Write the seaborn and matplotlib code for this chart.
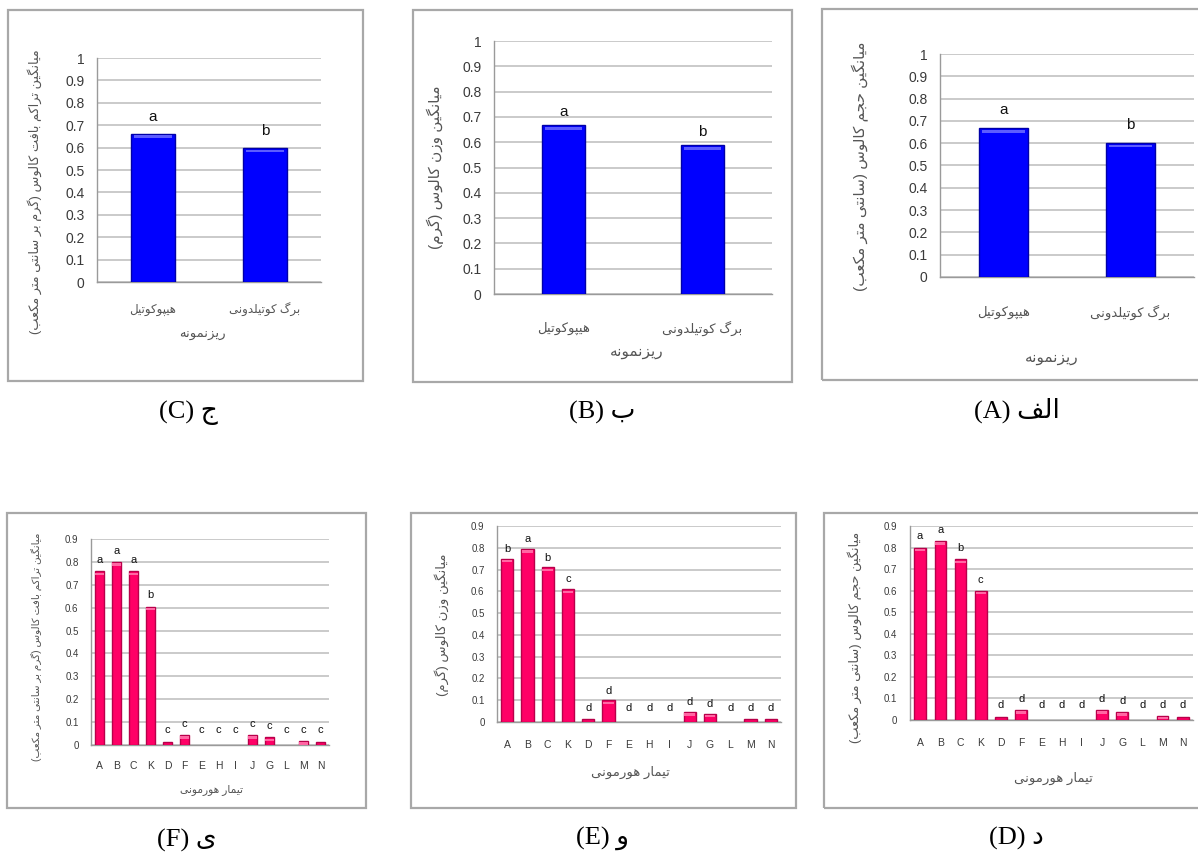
import numpy as np
import pandas as pd
import matplotlib
matplotlib.use("Agg")
import matplotlib.pyplot as plt
from matplotlib.patches import Rectangle
from matplotlib.ticker import MultipleLocator, FixedLocator
import seaborn as sns

# ---------------- data ----------------
explants = ["هیپوکوتیل", "برگ کوتیلدونی"]
explant_volume = [0.667, 0.600]
explant_volume_groups = ["a", "b"]
explant_weight = [0.668, 0.589]
explant_weight_groups = ["a", "b"]
explant_density = [0.662, 0.598]
explant_density_groups = ["a", "b"]

treatments = ["A", "B", "C", "K", "D", "F", "E", "H", "I", "J", "G", "L", "M", "N"]
hormone_volume = [0.80, 0.83, 0.745, 0.60, 0.012, 0.046, 0, 0, 0, 0.046, 0.037, 0, 0.02, 0.012]
hormone_volume_groups = ["a", "a", "b", "c"] + ["d"] * 10
hormone_weight = [0.75, 0.795, 0.71, 0.61, 0.012, 0.10, 0, 0, 0, 0.046, 0.038, 0, 0.012, 0.012]
hormone_weight_groups = ["b", "a", "b", "c"] + ["d"] * 10
hormone_density = [0.76, 0.80, 0.76, 0.605, 0.012, 0.044, 0, 0, 0, 0.044, 0.034, 0, 0.019, 0.012]
hormone_density_groups = ["a", "a", "a", "b"] + ["c"] * 10

label_volume = "میانگین حجم کالوس (سانتی متر مکعب)"
label_weight = "میانگین وزن کالوس (گرم)"
label_density = "میانگین تراکم بافت کالوس (گرم بر سانتی متر مکعب)"
label_explant = "ریزنمونه"
label_hormone = "تیمار هورمونی"

# ---------------- minimal Persian shaping (contextual forms + RTL order) ----------------
FORMS = {  # isolated, final, initial, medial
    "ا": ("\uFE8D", "\uFE8E", None, None),
    "ب": ("\uFE8F", "\uFE90", "\uFE91", "\uFE92"),
    "پ": ("\uFB56", "\uFB57", "\uFB58", "\uFB59"),
    "ت": ("\uFE95", "\uFE96", "\uFE97", "\uFE98"),
    "ج": ("\uFE9D", "\uFE9E", "\uFE9F", "\uFEA0"),
    "ح": ("\uFEA1", "\uFEA2", "\uFEA3", "\uFEA4"),
    "د": ("\uFEA9", "\uFEAA", None, None),
    "ر": ("\uFEAD", "\uFEAE", None, None),
    "ز": ("\uFEAF", "\uFEB0", None, None),
    "س": ("\uFEB1", "\uFEB2", "\uFEB3", "\uFEB4"),
    "ع": ("\uFEC9", "\uFECA", "\uFECB", "\uFECC"),
    "ف": ("\uFED1", "\uFED2", "\uFED3", "\uFED4"),
    "ک": ("\uFB8E", "\uFB8F", "\uFB90", "\uFB91"),
    "گ": ("\uFB92", "\uFB93", "\uFB94", "\uFB95"),
    "ل": ("\uFEDD", "\uFEDE", "\uFEDF", "\uFEE0"),
    "م": ("\uFEE1", "\uFEE2", "\uFEE3", "\uFEE4"),
    "ن": ("\uFEE5", "\uFEE6", "\uFEE7", "\uFEE8"),
    "ه": ("\uFEE9", "\uFEEA", "\uFEEB", "\uFEEC"),
    "و": ("\uFEED", "\uFEEE", None, None),
    "ی": ("\uFBFC", "\uFBFD", "\uFBFE", "\uFBFF"),
}
MIRROR = {"(": ")", ")": "("}


def fa(text):
    out = []
    for i, ch in enumerate(text):
        if ch not in FORMS:
            out.append(ch)
            continue
        prev = text[i - 1] if i > 0 else ""
        nxt = text[i + 1] if i + 1 < len(text) else ""
        join_prev = prev in FORMS and FORMS[prev][2] is not None
        join_next = FORMS[ch][2] is not None and nxt in FORMS
        iso, fin, ini, med = FORMS[ch]
        if join_prev and join_next:
            out.append(med)
        elif join_prev:
            out.append(fin)
        elif join_next:
            out.append(ini)
        else:
            out.append(iso)
    return "".join(MIRROR.get(c, c) for c in reversed(out))


# ---------------- style ----------------
sns.set_style("white")
plt.rcParams["font.family"] = ["Liberation Sans", "DejaVu Sans"]
plt.rcParams["axes.unicode_minus"] = False

W, H = 1198, 856
fig = plt.figure(figsize=(W / 100, H / 100), dpi=100)
fig.patch.set_facecolor("white")
PX = 72 / 100  # points per pixel

TEXT = "#3a3a3a"
FA_TEXT = "#555555"
GRID = "#c6c6c6"
AXIS = "#9a9a9a"
FRAME = "#a8a8a8"

BLUE = dict(face="#0000ff", edge="#0000a8", light="#5c5cff")
PINK = dict(face="#ff0066", edge="#b8004a", light="#ff66a3")


def panel(box, frame, cats, vals, groups, top, color, width, tick_fs,
          cat_fs, cat_y, ylabel, ylab_fs, ylabel_xy, xlabel, xlab_fs, xlabel_xy,
          grp_fs, grp_off, caption, caption_xy, persian_cats):
    l, t, r, b = box
    ax = fig.add_axes([l / W, 1 - b / H, (r - l) / W, (b - t) / H])

    # outer chart frame
    fl, ft, fr, fb = frame
    fig.add_artist(Rectangle((fl / W, 1 - fb / H), (fr - fl) / W, (fb - ft) / H,
                             transform=fig.transFigure, fill=False,
                             edgecolor=FRAME, linewidth=1.6, zorder=0))

    df = pd.DataFrame({"cat": cats, "val": vals})
    sns.barplot(data=df, x="cat", y="val", order=cats, color=color["face"],
                width=width, edgecolor=color["edge"], linewidth=1.0,
                saturation=1, errorbar=None, ax=ax, zorder=3)

    # light rim along the top of each bar; empty bars get no outline
    rim = top * 0.012
    for p in list(ax.patches):
        h = p.get_height()
        if h <= 0:
            p.set_linewidth(0)
        elif h > rim * 1.5:
            ax.add_patch(Rectangle((p.get_x() + p.get_width() * 0.06, h - rim * 1.6),
                                   p.get_width() * 0.88, rim, facecolor=color["light"],
                                   edgecolor="none", zorder=4))

    n = len(cats)
    ax.set_xlim(-0.5, n - 0.5)
    ax.set_ylim(0, top)
    ax.yaxis.set_major_locator(MultipleLocator(0.1))
    ax.yaxis.set_major_formatter(plt.FuncFormatter(
        lambda v, _: f"{v:.0f}" if abs(v - round(v)) < 1e-9 else f"{v:.1f}"))
    ax.grid(axis="y", color=GRID, linewidth=1.3, zorder=0)
    ax.set_axisbelow(True)

    for s in ("top", "right"):
        ax.spines[s].set_visible(False)
    for s in ("left", "bottom"):
        ax.spines[s].set_color(AXIS)
        ax.spines[s].set_linewidth(1.0)

    # category ticks between bars, labels centred under bars
    ax.xaxis.set_minor_locator(FixedLocator(np.arange(-0.5, n, 1.0)))
    ax.tick_params(axis="x", which="minor", length=4, color=AXIS, width=1)
    ax.tick_params(axis="x", which="major", length=0, pad=(cat_y - b) * PX,
                   labelsize=cat_fs, labelcolor=FA_TEXT if persian_cats else TEXT)
    ax.set_xticks(range(n))
    ax.set_xticklabels([fa(c) for c in cats] if persian_cats else cats)
    for lab in ax.get_xticklabels():
        lab.set_va("center")
    ax.tick_params(axis="y", length=4, color=AXIS, width=1, pad=5,
                   labelsize=tick_fs, labelcolor=TEXT)

    ax.set_xlabel(fa(xlabel), fontsize=xlab_fs, color=FA_TEXT)
    ax.xaxis.set_label_coords((xlabel_xy[0] - l) / (r - l), (b - xlabel_xy[1]) / (b - t))
    ax.xaxis.label.set_va("center")
    ax.set_ylabel(fa(ylabel), fontsize=ylab_fs, color=FA_TEXT)
    ax.yaxis.set_label_coords((ylabel_xy[0] - l) / (r - l), (b - ylabel_xy[1]) / (b - t))
    ax.yaxis.label.set_va("center")
    ax.yaxis.label.set_ha("center")

    # mean-separation letters above bars
    floor = top * 0.02
    for i, (v, g) in enumerate(zip(vals, groups)):
        ax.annotate(g, xy=(i, max(v, floor)), xytext=(0, grp_off),
                    textcoords="offset points", ha="center", va="center",
                    fontsize=grp_fs, color="#111111", zorder=5)

    fig.text(caption_xy[0] / W, 1 - caption_xy[1] / H, caption,
             fontsize=19, ha="center", va="center", color="black",
             family=["Liberation Serif", "DejaVu Sans"])
    return ax


# top row: explant comparison
panel((97, 58, 321, 282), (8, 10, 363, 381), explants, explant_density,
      explant_density_groups, 1.0, BLUE, 0.39, 10, 8.5, 310,
      label_density, 9.3, (35, 192), label_explant, 9.5, (202, 335), 11, 12,
      "(C) " + fa("ج"), (188, 413), True)
panel((494, 41, 772, 294), (413, 10, 792, 382), explants, explant_weight,
      explant_weight_groups, 1.0, BLUE, 0.31, 10, 9.5, 328,
      label_weight, 11, (435, 167), label_explant, 11, (637, 352), 11, 9,
      "(B) " + fa("ب"), (602, 412), True)
panel((940, 54, 1194, 277), (822, 9, 1205, 380), explants, explant_volume,
      explant_volume_groups, 1.0, BLUE, 0.39, 10, 9.5, 312,
      label_volume, 11, (860, 166), label_explant, 11, (1052, 358), 11, 13,
      "(A) " + fa("الف"), (1017, 410), True)

# bottom row: hormone treatments
panel((91, 539, 329, 745), (7, 513, 366, 808), treatments, hormone_density,
      hormone_density_groups, 0.9, PINK, 0.58, 7, 7.5, 766,
      label_density, 7.5, (37, 647), label_hormone, 7.7, (212, 790), 8, 8,
      "(F) " + fa("ی"), (187, 840), False)
panel((497, 526, 781, 722), (411, 513, 796, 808), treatments, hormone_weight,
      hormone_weight_groups, 0.9, PINK, 0.6, 7, 7.5, 745,
      label_weight, 9.5, (442, 625), label_hormone, 9.5, (630, 772), 8, 7,
      "(E) " + fa("و"), (603, 838), False)
panel((910, 526, 1193, 720), (824, 513, 1205, 808), treatments, hormone_volume,
      hormone_volume_groups, 0.9, PINK, 0.57, 7, 7.5, 743,
      label_volume, 9.3, (855, 637), label_hormone, 9.5, (1053, 778), 8, 8,
      "(D) " + fa("د"), (1016, 838), False)

fig.savefig("out.png", dpi=100, facecolor="white")
